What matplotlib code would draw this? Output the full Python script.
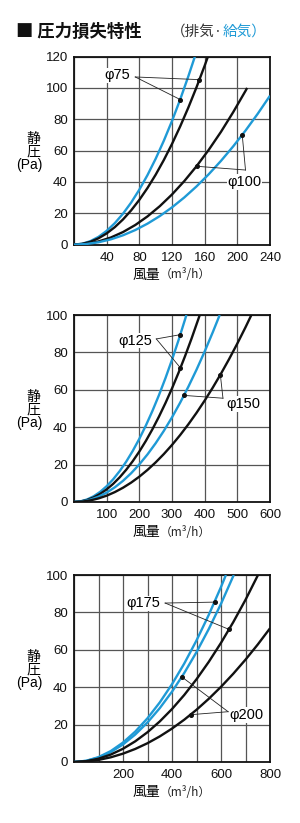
import matplotlib
matplotlib.use("Agg")
import matplotlib.pyplot as plt

plt.rcParams['font.family'] = ['Liberation Sans', 'Noto Sans CJK JP', 'DejaVu Sans']
CJK = ['Noto Sans CJK JP', 'DejaVu Sans']

BLUE = '#1f9ad6'
BLACK = '#111111'
GRID = '#555555'

# ---------------- data ----------------
# Panel 1 : phi75 / phi100, airflow (m3/h) 0-240, static pressure (Pa) 0-120
p1_blue75_q = [0, 10, 20, 30, 40, 50, 60, 70, 80, 90, 100, 110, 120, 130, 140, 148]
p1_blue75_p = [0, 0.55, 2.19, 4.93, 8.77, 13.7, 19.73, 26.85, 35.07, 44.39, 54.8, 66.31,
               78.91, 92.61, 107.41, 120]
p1_black75_q = [0, 10, 20, 30, 40, 50, 60, 70, 80, 90, 100, 110, 120, 130, 140, 150, 160, 164]
p1_black75_p = [0, 0.45, 1.78, 4.02, 7.14, 11.16, 16.06, 21.86, 28.56, 36.14, 44.62, 53.99,
                64.25, 75.41, 87.46, 100.4, 114.2, 120]
p1_black100_q = [0, 15, 30, 45, 60, 75, 90, 105, 120, 135, 150, 165, 180, 195, 210, 212]
p1_black100_p = [0, 0.5, 2.0, 4.5, 8.0, 12.5, 18.0, 24.5, 32.0, 40.5, 50.0, 60.5, 72.0, 84.6,
                 98.1, 100]
p1_blue100_q = [0, 15, 30, 45, 60, 75, 90, 105, 120, 135, 150, 165, 180, 195, 210, 225, 240]
p1_blue100_p = [0, 0.37, 1.49, 3.34, 5.94, 9.28, 13.37, 18.19, 23.76, 30.07, 37.13, 44.92,
                53.46, 62.74, 72.77, 83.53, 95.04]

# Panel 2 : phi125 / phi150, airflow 0-600, static pressure 0-100
p2_blue125_q = [0, 20, 40, 60, 80, 100, 120, 140, 160, 180, 200, 220, 240, 260, 280, 300,
                320, 340, 344]
p2_blue125_p = [0, 0.34, 1.35, 3.04, 5.41, 8.45, 12.17, 16.56, 21.63, 27.38, 33.8, 40.9,
                48.67, 57.12, 66.25, 76.05, 86.53, 97.68, 100]
p2_black125_q = [0, 20, 40, 60, 80, 100, 120, 140, 160, 180, 200, 220, 240, 260, 280, 300,
                 320, 340, 360, 385]
p2_black125_p = [0, 0.27, 1.08, 2.43, 4.32, 6.75, 9.72, 13.23, 17.28, 21.87, 27.0, 32.67,
                 38.88, 45.63, 52.92, 60.75, 69.12, 78.03, 87.48, 100]
p2_blue150_q = [0, 25, 50, 75, 100, 125, 150, 175, 200, 225, 250, 275, 300, 325, 350, 375,
                400, 425, 446]
p2_blue150_p = [0, 0.31, 1.26, 2.83, 5.03, 7.86, 11.32, 15.4, 20.12, 25.46, 31.44, 38.04,
                45.27, 53.13, 61.62, 70.73, 80.48, 90.86, 100]
p2_black150_q = [0, 25, 50, 75, 100, 125, 150, 175, 200, 225, 250, 275, 300, 325, 350, 375,
                 400, 425, 450, 475, 500, 525, 543]
p2_black150_p = [0, 0.21, 0.85, 1.91, 3.39, 5.3, 7.63, 10.38, 13.56, 17.16, 21.19, 25.64,
                 30.51, 35.81, 41.53, 47.67, 54.24, 61.23, 68.65, 76.49, 84.75, 93.44, 100]

# Panel 3 : phi175 / phi200, airflow 0-800, static pressure 0-100
p3_blue175_q = [0, 50, 100, 150, 200, 250, 300, 350, 400, 450, 500, 550, 600, 620]
p3_blue175_p = [0, 0.65, 2.6, 5.85, 10.4, 16.25, 23.4, 31.85, 41.6, 52.65, 65.0, 78.65,
                93.6, 100]
p3_blue200_q = [0, 50, 100, 150, 200, 250, 300, 350, 400, 450, 500, 550, 600, 652]
p3_blue200_p = [0, 0.59, 2.35, 5.29, 9.4, 14.69, 21.15, 28.79, 37.6, 47.59, 58.75, 71.09,
                84.6, 100]
p3_black175_q = [0, 50, 100, 150, 200, 250, 300, 350, 400, 450, 500, 550, 600, 650, 700, 751]
p3_black175_p = [0, 0.44, 1.77, 3.98, 7.08, 11.06, 15.93, 21.68, 28.32, 35.84, 44.25, 53.54,
                 63.72, 74.78, 86.73, 100]
p3_black200_q = [0, 50, 100, 150, 200, 250, 300, 350, 400, 450, 500, 550, 600, 650, 700,
                 750, 800]
p3_black200_p = [0, 0.28, 1.12, 2.51, 4.47, 6.98, 10.05, 13.68, 17.87, 22.62, 27.93, 33.79,
                 40.21, 47.19, 54.73, 62.83, 71.49]

# ticks
p1_xticks = [0, 40, 80, 120, 160, 200, 240]
p1_xlabels = ['', '40', '80', '120', '160', '200', '240']
p1_yticks = [0, 20, 40, 60, 80, 100, 120]
p2_xticks = [0, 100, 200, 300, 400, 500, 600]
p2_xlabels = ['', '100', '200', '300', '400', '500', '600']
p2_yticks = [0, 20, 40, 60, 80, 100]
p3_xticks = [0, 100, 200, 300, 400, 500, 600, 700, 800]
p3_xlabels = ['', '', '200', '', '400', '', '600', '', '800']
p3_yticks = [0, 20, 40, 60, 80, 100]

# annotations: label, text position, vertex, marker points
p1_ann = [("φ75", (53, 108), (75, 107), [(130, 92.6), (153.5, 105.3)]),
          ("φ100", (209, 40), (210, 47.6), [(206, 70.0), (150, 50.0)])]
p2_ann = [("φ125", (187, 86.3), (252, 87.2), [(326, 89.5), (326, 71.7)]),
          ("φ150", (517, 52.5), (456, 55.5), [(337, 57.0), (448, 68.0)])]
p3_ann = [("φ175", (284, 84.9), (372, 85), [(574, 85.5), (633, 70.9)]),
          ("φ200", (704, 25.1), (629, 26.9), [(440, 45.5), (476, 25.3)])]

W, H = 300, 823
fig = plt.figure(figsize=(W / 100, H / 100), dpi=100)
bg = fig.add_axes([0, 0, 1, 1], zorder=-5)
bg.axis('off')
bg.set_xlim(0, 1)
bg.set_ylim(0, 1)

# title
bg.text(16 / W, 1 - 31.5 / H, "■ 圧力損失特性", fontsize=12.5, fontweight='bold',
        va='center', ha='left', color='#111111', family=CJK)
t2 = bg.text(171 / W, 1 - 31.5 / H, "（排気·", fontsize=10.5, va='center', ha='left',
             color='#333333', family=CJK)
bg.annotate("給気）", xy=(1, 0.5), xycoords=t2, fontsize=10.5, va='center', ha='left',
            color=BLUE, family=CJK)

panels = [
    dict(box=(74, 56.6, 270, 244.6), xlim=240, ylim=120,
         xt=p1_xticks, xl=p1_xlabels, yt=p1_yticks,
         curves=[(p1_blue75_q, p1_blue75_p, BLUE), (p1_black75_q, p1_black75_p, BLACK),
                 (p1_black100_q, p1_black100_p, BLACK), (p1_blue100_q, p1_blue100_p, BLUE)],
         ann=p1_ann),
    dict(box=(74, 315, 270, 502), xlim=600, ylim=100,
         xt=p2_xticks, xl=p2_xlabels, yt=p2_yticks,
         curves=[(p2_blue125_q, p2_blue125_p, BLUE), (p2_black125_q, p2_black125_p, BLACK),
                 (p2_blue150_q, p2_blue150_p, BLUE), (p2_black150_q, p2_black150_p, BLACK)],
         ann=p2_ann),
    dict(box=(74, 575, 270, 762), xlim=800, ylim=100,
         xt=p3_xticks, xl=p3_xlabels, yt=p3_yticks,
         curves=[(p3_blue175_q, p3_blue175_p, BLUE), (p3_blue200_q, p3_blue200_p, BLUE),
                 (p3_black175_q, p3_black175_p, BLACK), (p3_black200_q, p3_black200_p, BLACK)],
         ann=p3_ann),
]

for pn in panels:
    x0, y0, x1, y1 = pn['box']
    ax = fig.add_axes([x0 / W, 1 - y1 / H, (x1 - x0) / W, (y1 - y0) / H])
    ax.set_xlim(0, pn['xlim'])
    ax.set_ylim(0, pn['ylim'])
    ax.set_xticks(pn['xt'])
    ax.set_xticklabels(pn['xl'])
    ax.set_yticks(pn['yt'])
    ax.tick_params(length=0, labelsize=9.5, colors='#111111')
    ax.tick_params(axis='y', pad=4.5)
    ax.tick_params(axis='x', pad=5)
    ax.grid(True, color=GRID, linewidth=0.9)
    ax.set_axisbelow(True)
    for s in ax.spines.values():
        s.set_linewidth(1.3)
        s.set_color('#111111')
    for q, p, c in pn['curves']:
        ax.plot(q, p, color=c, linewidth=1.7, solid_capstyle='butt', zorder=3)
    for label, tpos, vtx, marks in pn['ann']:
        for m in marks:
            ax.plot([vtx[0], m[0]], [vtx[1], m[1]], color='#222222', linewidth=0.6, zorder=4)
            ax.plot([m[0]], [m[1]], 'o', color='#111111', markersize=2.6, zorder=5)
        ax.text(tpos[0], tpos[1], label, fontsize=10.5, ha='center', va='center', zorder=6,
                bbox=dict(facecolor='white', edgecolor='none', pad=0.5))
    # y label
    cy = (y0 + y1) / 2
    bg.text(33 / W, 1 - (cy - 12) / H, "静", fontsize=10, ha='center', va='center')
    bg.text(33 / W, 1 - (cy + 1) / H, "圧", fontsize=10, ha='center', va='center')
    bg.text(29 / W, 1 - (cy + 14.5) / H, "(Pa)", fontsize=10, ha='center', va='center')
    # x label
    xl = bg.text(160 / W, 1 - (y1 + 30) / H, "風量", fontsize=10, ha='right', va='center')
    bg.annotate("（m³/h）", xy=(1, 0.5), xycoords=xl, fontsize=8.5, ha='left', va='center',
                color='#222222', family=CJK)

fig.savefig("out.png", dpi=100)
